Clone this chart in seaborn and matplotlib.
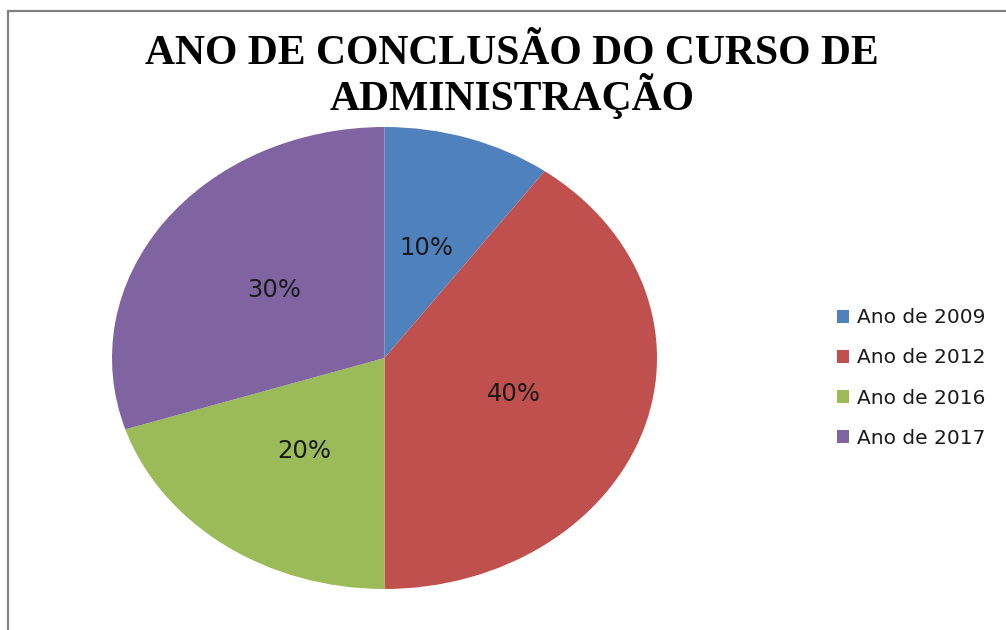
import matplotlib
matplotlib.use("Agg")
import matplotlib.pyplot as plt
from matplotlib.lines import Line2D
import seaborn as sns

categories = ["Ano de 2009", "Ano de 2012", "Ano de 2016", "Ano de 2017"]
values = [10, 40, 20, 30]
colors = ["#4F81BD", "#C0504D", "#9BBB59", "#8064A2"]
title = "ANO DE CONCLUSÃO DO CURSO DE\nADMINISTRAÇÃO"

sns.set_theme(style="white")
plt.rcParams['font.family'] = ['DejaVu Sans']
palette = sns.color_palette(colors)

W, H = 1006, 630
fig = plt.figure(figsize=(W / 100, H / 100), dpi=100)
fig.patch.set_facecolor("white")

# elliptical pie region (pixels)
x0, x1, y0, y1 = 112, 657, 127, 589
ax = fig.add_axes([x0 / W, 1 - y1 / H, (x1 - x0) / W, (y1 - y0) / H])
wedges, texts, autotexts = ax.pie(
    values, colors=palette, startangle=90, counterclock=False,
    autopct=lambda p: f"{p:.0f}%", pctdistance=0.5,
    textprops=dict(fontsize=17.5, color="#1a1a1a"),
    wedgeprops=dict(linewidth=0))
ax.set_aspect("auto")
ax.set_xlim(-1, 1)
ax.set_ylim(-1, 1)
ax.axis("off")

fig.text(512 / W, 1 - 77 / H, title, ha="center", va="center",
         fontsize=30, fontweight="bold", family="Liberation Serif",
         linespacing=0.99, color="black")

leg = fig.legend(wedges, categories, loc="center left",
                 bbox_to_anchor=(819 / W, 1 - 378 / H), frameon=False,
                 fontsize=14.5, handlelength=0.6, handleheight=0.6,
                 handletextpad=0.4, labelspacing=1.05)
for t in leg.get_texts():
    t.set_color("#1a1a1a")

# chart border (left & top visible)
fig.add_artist(Line2D([8 / W, 8 / W], [0, 1 - 11 / H], color="#808080", lw=1.6,
                      transform=fig.transFigure))
fig.add_artist(Line2D([8 / W, 1], [1 - 11 / H, 1 - 11 / H], color="#808080", lw=1.6,
                      transform=fig.transFigure))

fig.savefig("out.png", dpi=100)
